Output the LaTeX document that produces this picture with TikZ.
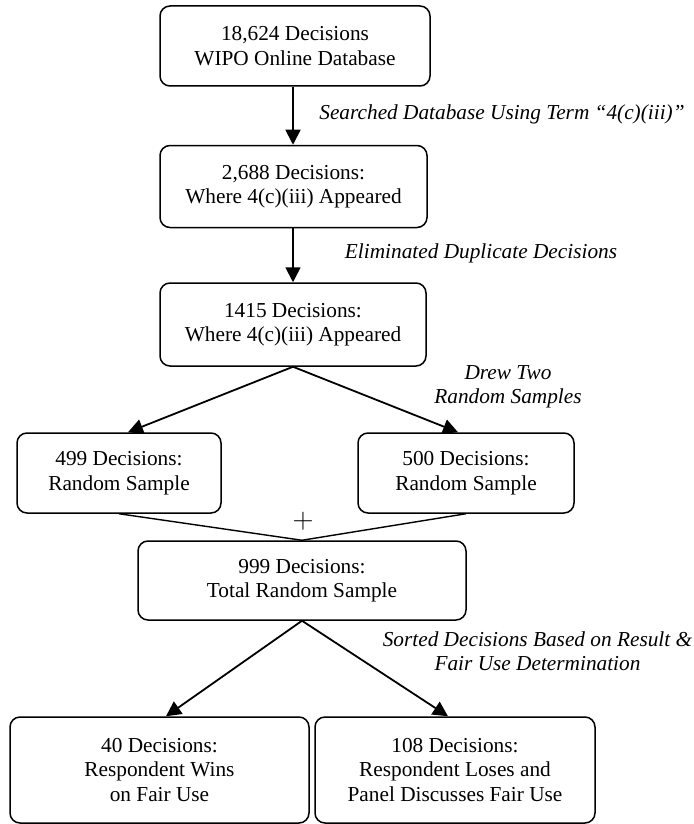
\documentclass[tikz,border=0pt]{standalone}
\usepackage{fontspec}
\setmainfont{Liberation Serif}
\usetikzlibrary{arrows.meta}
\newcommand{\txtsize}{\fontsize{21.3}{24.5}\selectfont}

\begin{document}
\begin{tikzpicture}[x=1pt,y=-1pt,
  box/.style={draw, line width=1.5pt, rounded corners=10pt, align=center, inner sep=0pt, font=\txtsize},
  lab/.style={align=center, font=\txtsize\itshape},
  arr/.style={line width=1.8pt, -{Triangle[length=15pt,width=15pt]}},
  merge/.style={line width=1.4pt}]
\useasboundingbox (0,0) rectangle (693,824);
\node[box, minimum width=270pt, minimum height=80pt] (box1) at (295,46) {18,624 Decisions\\WIPO Online Database};
\node[box, minimum width=267pt, minimum height=82pt] (box2) at (293.5,186.5) {2,688 Decisions:\\Where 4(c)(iii) Appeared};
\node[box, minimum width=266pt, minimum height=83pt] (box3) at (293,324.5) {1415 Decisions:\\Where 4(c)(iii) Appeared};
\node[box, minimum width=204pt, minimum height=80pt] (box4) at (119,473) {499 Decisions:\\Random Sample};
\node[box, minimum width=216pt, minimum height=80pt] (box5) at (466,473) {500 Decisions:\\Random Sample};
\node[box, minimum width=328pt, minimum height=79pt] (box6) at (302,580.5) {999 Decisions:\\Total Random Sample};
\node[box, minimum width=299pt, minimum height=106pt] (box7) at (159.5,770) {40 Decisions:\\Respondent Wins\\on Fair Use};
\node[box, minimum width=280pt, minimum height=106pt] (box8) at (455,770) {108 Decisions:\\Respondent Loses and\\Panel Discusses Fair Use};
\node[font=\txtsize, scale=1.4, inner sep=0pt] (plus) at (303,521) {$+$};
\node[lab] (lab1) at (502,114) {Searched Database Using Term “4(c)(iii)”};
\node[lab] (lab2) at (481,253) {Eliminated Duplicate Decisions};
\node[lab] (lab3) at (508,387) {Drew Two\\Random Samples};
\node[lab] (lab4) at (537.5,651) {Sorted Decisions Based on Result \&\\Fair Use Determination};
\draw[arr] (box1.south -| box3.north) -- (box2.north -| box3.north);
\draw[arr] (box2.south -| box3.north) -- (box3.north);
\draw[arr] (box3.south) -- ([xshift=9pt]box4.north);
\draw[arr] (box3.south) -- ([xshift=-8pt]box5.north);
\draw[merge] (box4.south) -- (box6.north);
\draw[merge] (box5.south) -- (box6.north);
\draw[arr] (box6.south) -- ([xshift=6.5pt]box7.north);
\draw[arr] (box6.south) -- ([xshift=-7pt]box8.north);
\end{tikzpicture}
\end{document}
